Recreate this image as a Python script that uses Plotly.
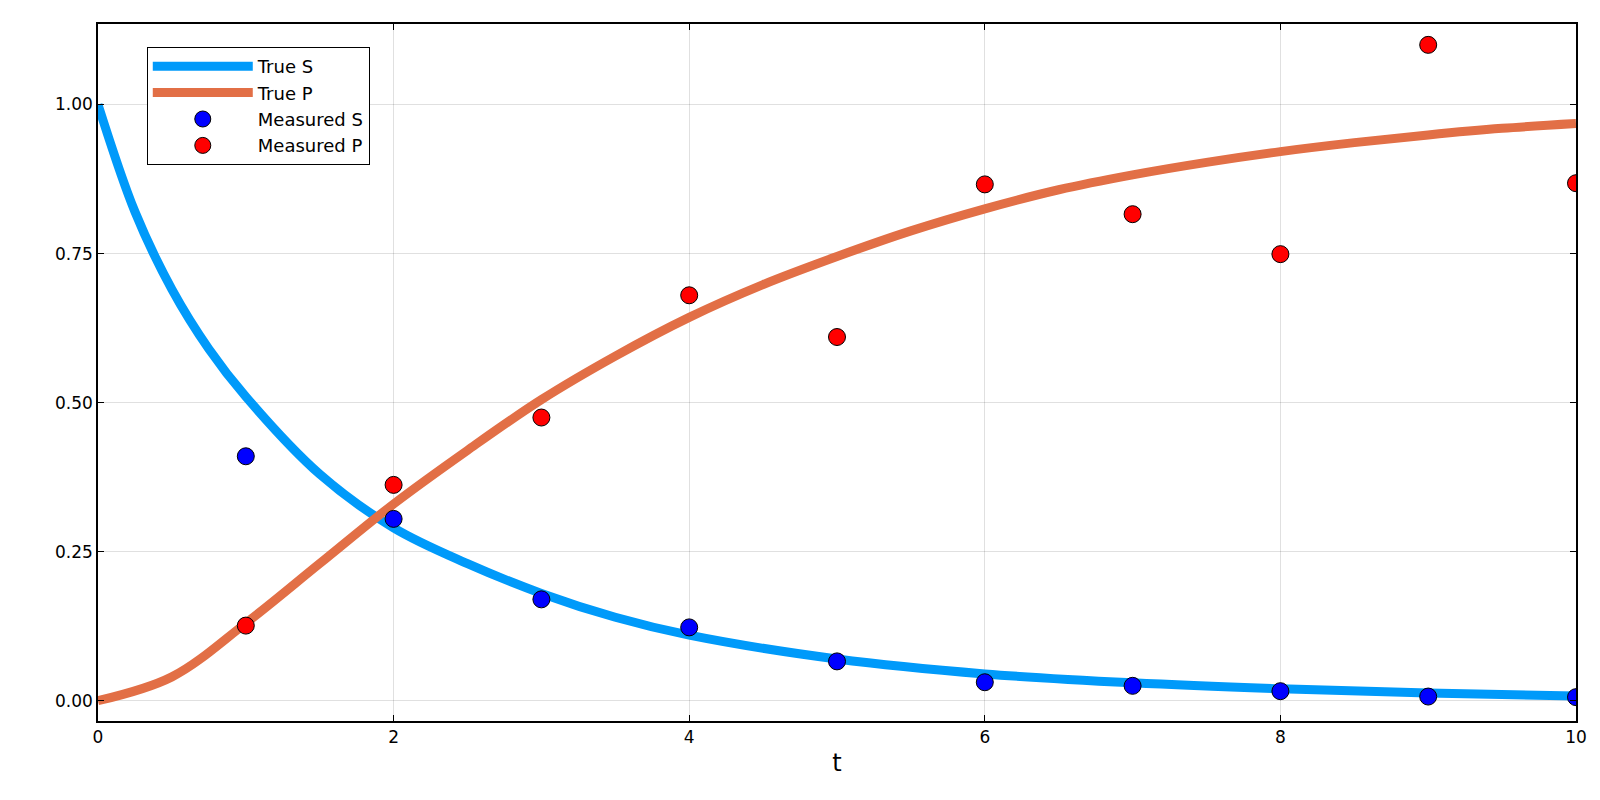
import plotly.graph_objects as go

t_curve = [0, 0.25, 0.5, 0.75, 1, 1.5, 2, 2.5, 3, 3.5, 4, 5, 6, 7, 8, 9, 10]
s_true = [1.0, 0.82, 0.69, 0.59, 0.51, 0.38, 0.29, 0.23, 0.18, 0.14, 0.11, 0.07, 0.045, 0.03, 0.02, 0.013, 0.008]
t_p = [0, 0.5, 1, 1.5, 2, 2.5, 3, 3.5, 4, 4.5, 5, 5.5, 6, 6.5, 7, 7.5, 8, 8.5, 9, 9.5, 10]
p_true = [0.0, 0.04, 0.13, 0.23, 0.33, 0.42, 0.505, 0.578, 0.643, 0.698, 0.745, 0.788, 0.825, 0.857, 0.882, 0.903, 0.921, 0.936, 0.949, 0.96, 0.968]

t_meas = [1, 2, 3, 4, 5, 6, 7, 8, 9, 10]
s_meas = [0.41, 0.305, 0.17, 0.123, 0.066, 0.031, 0.025, 0.016, 0.007, 0.006]
p_meas = [0.126, 0.362, 0.475, 0.68, 0.61, 0.866, 0.816, 0.749, 1.10, 0.868]

fig = go.Figure()
fig.add_trace(go.Scatter(x=t_curve, y=s_true, mode="lines", name="True S",
                         line=dict(color="#009AFA", width=9, shape="spline", smoothing=1.0)))
fig.add_trace(go.Scatter(x=t_p, y=p_true, mode="lines", name="True P",
                         line=dict(color="#E26F46", width=9, shape="spline", smoothing=1.0)))
fig.add_trace(go.Scatter(x=t_meas, y=s_meas, mode="markers", name="Measured S",
                         marker=dict(color="blue", size=17, line=dict(color="black", width=1))))
fig.add_trace(go.Scatter(x=t_meas, y=p_meas, mode="markers", name="Measured P",
                         marker=dict(color="red", size=17, line=dict(color="black", width=1))))

axis_common = dict(showline=True, linecolor="black", linewidth=1.5, mirror="allticks",
                   ticks="inside", ticklen=6, tickcolor="black",
                   showgrid=True, gridcolor="rgba(0,0,0,0.12)", zeroline=False,
                   tickfont=dict(family="DejaVu Sans", size=17, color="black"))
fig.update_xaxes(range=[0, 10], tickvals=[0, 2, 4, 6, 8, 10],
                 title=dict(text="t", font=dict(family="DejaVu Sans", size=24, color="black"), standoff=8),
                 **axis_common)
fig.update_yaxes(range=[-0.034, 1.135], tickvals=[0, 0.25, 0.5, 0.75, 1.0], tickformat=".2f",
                 **axis_common)
fig.update_layout(
    width=1600, height=800, plot_bgcolor="white", paper_bgcolor="white",
    margin=dict(l=90, r=32, t=16, b=87),
    font=dict(family="DejaVu Sans", size=17, color="black"),
    legend=dict(x=0.033, y=0.967, xanchor="left", yanchor="top",
                bordercolor="black", borderwidth=1, bgcolor="white",
                font=dict(size=18), itemwidth=100, tracegroupgap=0),
)
fig.write_html("out.html")
